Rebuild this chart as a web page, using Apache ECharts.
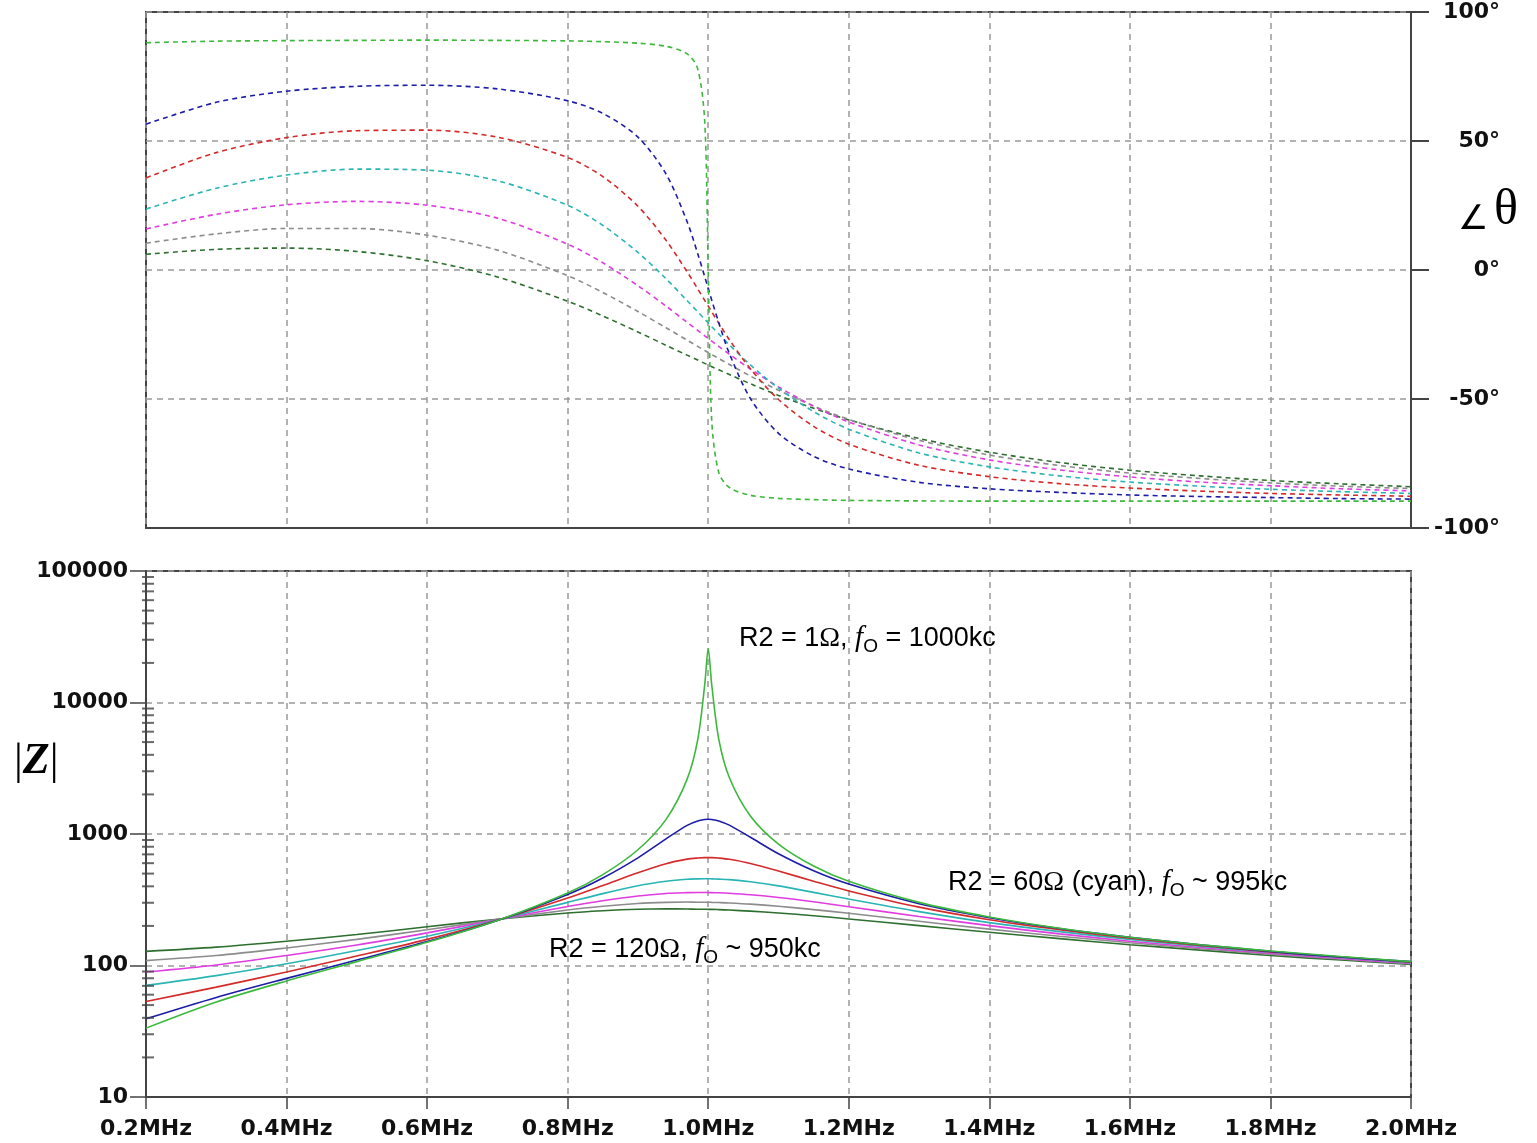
<!DOCTYPE html>
<html>
<head>
<meta charset="utf-8">
<script src="https://cdn.jsdelivr.net/npm/echarts@6/dist/echarts.min.js"></script>
<style>
html, body { margin: 0; padding: 0; background: #fff; }
#main { width: 1537px; height: 1143px; }
</style>
</head>
<body>
<div id="main"></div>
<script>
// frequency points (MHz)
var freqs = [0.2, 0.3, 0.4, 0.5, 0.6, 0.7, 0.8, 0.85, 0.9, 0.94, 0.97, 0.985, 0.995, 1.0, 1.005, 1.015, 1.03, 1.06, 1.1, 1.15, 1.2, 1.3, 1.4, 1.5, 1.6, 1.7, 1.8, 1.9, 2.0];

// |Z| (ohms) for each R2 curve
var magR1   = [33.4, 52.8, 76.3, 107, 150, 220, 356, 491, 759, 1292, 2616, 5192, 13600, 25660, 13600, 5265, 2692, 1372, 839, 571, 437, 302, 234, 192, 164, 144, 129, 117, 107];
var magR20  = [39.3, 57.2, 79.8, 110, 152, 220, 347, 463, 659, 919, 1163, 1257, 1289, 1293, 1289, 1257, 1168, 944, 707, 525, 416, 295, 231, 191, 164, 144, 128, 116, 107];
var magR40  = [53.3, 68.5, 89.3, 118, 158, 221, 326, 406, 508, 595, 644, 657, 661, 661, 661, 656, 642, 597, 523, 437, 369, 278, 223, 187, 161, 142, 127, 116, 106];
var magR60  = [70.6, 83.8, 103, 130, 167, 222, 302, 352, 404, 437, 453, 456, 457, 457, 456, 454, 450, 433, 403, 360, 320, 257, 212, 181, 158, 140, 126, 115, 105];
var magR80  = [89.3, 101, 119, 143, 177, 223, 281, 311, 338, 353, 358, 359, 359, 359, 358, 357, 354, 345, 329, 305, 280, 236, 201, 174, 153, 137, 124, 113, 104];
var magR100 = [109, 119, 136, 158, 187, 224, 264, 282, 296, 302, 304, 303, 303, 303, 302, 301, 299, 293, 282, 266, 250, 217, 189, 167, 149, 134, 122, 112, 103];
var magR120 = [128, 138, 153, 172, 197, 225, 251, 261, 268, 270, 269, 268, 268, 267, 267, 266, 264, 259, 251, 239, 226, 201, 179, 160, 144, 131, 119, 110, 102];

// phase angle (degrees) for each R2 curve
var phR1   = [88.1, 88.7, 88.9, 89.0, 89.1, 89.0, 88.8, 88.5, 87.9, 86.7, 83.8, 78.0, 57.6, -0.4, -58.4, -78.5, -84.3, -87.3, -88.5, -89.0, -89.3, -89.5, -89.6, -89.6, -89.6, -89.6, -89.6, -89.6, -89.6];
var phR20  = [56.5, 65.0, 69.3, 71.2, 71.6, 70.2, 65.6, 60.7, 51.5, 37.2, 18.7, 6.4, -2.6, -7.1, -11.7, -20.4, -32.3, -49.8, -63.3, -72.2, -77.1, -82.3, -84.8, -86.2, -87.2, -87.8, -88.2, -88.6, -88.8];
var phR40  = [35.7, 45.5, 51.3, 54.0, 54.2, 51.5, 43.6, 36.2, 24.7, 11.5, -0.7, -7.3, -11.8, -14.0, -16.2, -20.6, -27.0, -38.3, -50.2, -60.6, -67.5, -75.7, -80.1, -82.8, -84.5, -85.7, -86.6, -87.2, -87.7];
var phR60  = [23.6, 31.7, 36.8, 39.1, 38.7, 34.6, 25.1, 17.3, 6.8, -3.4, -11.9, -16.2, -19.1, -20.5, -22.0, -24.8, -29.0, -36.8, -45.8, -54.9, -61.7, -70.9, -76.3, -79.8, -82.2, -83.8, -85.0, -85.9, -86.6];
var phR80  = [15.9, 21.6, 25.3, 26.6, 25.1, 20.1, 10.0, 2.8, -6.1, -14.0, -20.3, -23.4, -25.5, -26.5, -27.6, -29.6, -32.6, -38.4, -45.3, -52.8, -58.9, -67.8, -73.6, -77.5, -80.2, -82.2, -83.6, -84.8, -85.6];
var phR100 = [10.4, 14.0, 16.1, 16.1, 13.5, 7.7, -2.2, -8.7, -16.1, -22.4, -27.2, -29.6, -31.2, -32.0, -32.8, -34.3, -36.6, -41.1, -46.6, -52.7, -57.9, -66.0, -71.7, -75.8, -78.7, -80.8, -82.5, -83.8, -84.7];
var phR120 = [6.1, 8.0, 8.5, 7.2, 3.6, -2.7, -12.1, -17.8, -24.0, -29.2, -33.0, -34.9, -36.2, -36.8, -37.5, -38.7, -40.5, -44.1, -48.6, -53.6, -58.1, -65.3, -70.6, -74.6, -77.6, -79.8, -81.6, -82.9, -84.0];

var names = ['R2=120', 'R2=100', 'R2=80', 'R2=60', 'R2=40', 'R2=20', 'R2=1'];
var colors = ['#2e6e2e', '#8c8c8c', '#e03ce0', '#2ab4b4', '#d42a2a', '#1c1ca8', '#3cb93c'];
var mags = [magR120, magR100, magR80, magR60, magR40, magR20, magR1];
var phases = [phR120, phR100, phR80, phR60, phR40, phR20, phR1];

// minor tick values on the log axis
var minorLogTicks = [20, 30, 40, 50, 60, 70, 80, 90, 200, 300, 400, 500, 600, 700, 800, 900,
  2000, 3000, 4000, 5000, 6000, 7000, 8000, 9000, 20000, 30000, 40000, 50000, 60000, 70000, 80000, 90000];

function pairs(ys) {
  return freqs.map(function (f, i) { return [f, ys[i]]; });
}

var tickFont = { fontFamily: 'DejaVu Sans', fontWeight: 'bold', fontSize: 22, color: '#111' };
var axisLineStyle = { color: '#444', width: 2 };
var gridLineStyle = { color: '#999', width: 1.5, type: [6, 5] };

var series = [];
names.forEach(function (n, k) {
  series.push({
    name: n, type: 'line', xAxisIndex: 0, yAxisIndex: 0,
    data: pairs(phases[k]), symbol: 'none', smooth: 0.3,
    lineStyle: { color: colors[k], width: 1.6, type: [5, 4] }
  });
  series.push({
    name: n, type: 'line', xAxisIndex: 1, yAxisIndex: 1,
    data: pairs(mags[k]), symbol: 'none', smooth: 0.3,
    lineStyle: { color: colors[k], width: 1.6 }
  });
});
// minor log ticks on the |Z| axis
series.push({
  type: 'scatter', xAxisIndex: 1, yAxisIndex: 1, silent: true, clip: false,
  data: minorLogTicks.map(function (v) { return [0.2, v]; }),
  symbol: 'rect', symbolSize: [12, 2], symbolOffset: [2, 0],
  itemStyle: { color: '#444' }, z: 5
});

var serif = 'Liberation Serif';
var sans = 'Liberation Sans';
var rich = {
  a: { fontFamily: sans, fontSize: 27, color: '#111', lineHeight: 36, verticalAlign: 'middle' },
  w: { fontFamily: serif, fontSize: 28, color: '#111', lineHeight: 36, verticalAlign: 'middle' },
  f: { fontFamily: serif, fontStyle: 'italic', fontSize: 29, color: '#111', lineHeight: 36, verticalAlign: 'middle' },
  s: { fontFamily: sans, fontSize: 19, color: '#111', lineHeight: 19, verticalAlign: 'bottom' }
};

var myChart = echarts.init(document.getElementById('main'));
myChart.setOption({
  animation: false,
  backgroundColor: '#fff',
  grid: [
    { left: 146, right: 126, top: 12, height: 516, show: true, borderColor: '#444', borderWidth: 2 },
    { left: 146, right: 126, top: 571, height: 526, show: true, borderColor: '#444', borderWidth: 2 }
  ],
  xAxis: [
    {
      gridIndex: 0, type: 'value', min: 0.2, max: 2.0, interval: 0.2,
      axisLine: { onZero: false, lineStyle: axisLineStyle }, axisTick: { show: false },
      axisLabel: { show: false }, splitLine: { lineStyle: gridLineStyle }
    },
    {
      gridIndex: 1, type: 'value', min: 0.2, max: 2.0, interval: 0.2,
      axisLine: { onZero: false, lineStyle: axisLineStyle },
      axisTick: { length: 12, lineStyle: { color: '#444', width: 1.5 } },
      axisLabel: Object.assign({ margin: 21, formatter: function (v) { return v.toFixed(1) + 'MHz'; } }, tickFont),
      splitLine: { lineStyle: gridLineStyle }
    }
  ],
  yAxis: [
    {
      gridIndex: 0, type: 'value', position: 'right', min: -100, max: 100, interval: 50,
      axisLine: { show: true, lineStyle: axisLineStyle },
      axisTick: { show: true, length: 18, lineStyle: { color: '#444', width: 2 } },
      axisLabel: Object.assign({ margin: 89, align: 'right', formatter: function (v) { return v + '°'; } }, tickFont),
      splitLine: { lineStyle: gridLineStyle }
    },
    {
      gridIndex: 1, type: 'log', logBase: 10, min: 10, max: 100000,
      axisLine: { show: true, lineStyle: axisLineStyle },
      axisTick: { show: true, length: 16, lineStyle: { color: '#444', width: 1.5 } },
      axisLabel: Object.assign({ margin: 18, formatter: function (v) { return String(Math.round(v)); } }, tickFont),
      splitLine: { lineStyle: gridLineStyle }
    }
  ],
  graphic: [
    { type: 'text', left: 739, top: 624, z: 100,
      style: { text: '{a|R2 = 1}{w|Ω}{a|, }{f|f}{s|O}{a| = 1000kc}', rich: rich } },
    { type: 'text', left: 948, top: 868, z: 100,
      style: { text: '{a|R2 = 60}{w|Ω}{a| (cyan), }{f|f}{s|O}{a| ~ 995kc}', rich: rich } },
    { type: 'text', left: 549, top: 935, z: 100,
      style: { text: '{a|R2 = 120}{w|Ω}{a|, }{f|f}{s|O}{a| ~ 950kc}', rich: rich } },
    { type: 'text', left: 14, top: 740, z: 100,
      style: { text: '{p||}{z|Z}{p||}', rich: {
        p: { fontFamily: serif, fontSize: 44, color: '#111' },
        z: { fontFamily: serif, fontSize: 44, fontStyle: 'italic', fontWeight: 'bold', color: '#111' }
      } } },
    { type: 'text', left: 1458, top: 186, z: 100,
      style: { text: '{g|∠}{t|θ}', rich: {
        g: { fontFamily: serif, fontSize: 34, color: '#111', verticalAlign: 'bottom', lineHeight: 46, padding: [0, 6, 0, 0] },
        t: { fontFamily: serif, fontSize: 50, color: '#111', lineHeight: 52 }
      } } }
  ],
  series: series
});
</script>
</body>
</html>
